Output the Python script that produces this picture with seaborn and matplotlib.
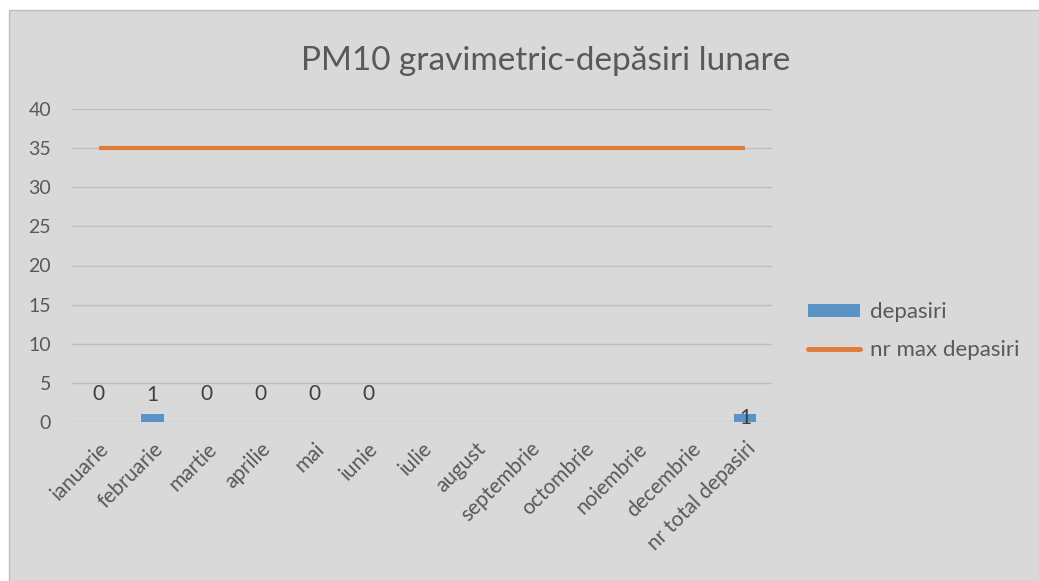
import numpy as np
import pandas as pd
import matplotlib.pyplot as plt
import seaborn as sns
from matplotlib.patches import Rectangle, Patch
from matplotlib.lines import Line2D

# data
months = ["ianuarie", "februarie", "martie", "aprilie", "mai", "iunie", "iulie",
          "august", "septembrie", "octombrie", "noiembrie", "decembrie", "nr total depasiri"]
depasiri = [0, 1, 0, 0, 0, 0, np.nan, np.nan, np.nan, np.nan, np.nan, np.nan, 1]
max_depasiri = [35] * 13
y_ticks = [0, 5, 10, 15, 20, 25, 30, 35, 40]

df = pd.DataFrame({"luna": months, "depasiri": depasiri, "max": max_depasiri})

sns.set_style("white")
plt.rcParams["font.family"] = ["Lato", "DejaVu Sans"]

blue = "#5b93c7"
orange = "#e07b39"
grey_txt = "#595959"

fig = plt.figure(figsize=(10.39, 5.81), dpi=100, facecolor="white")
# grey chart area (Excel style), with a white strip on top/left
fig.patches.append(Rectangle((9 / 1039, 0), 1, 1 - 10 / 581, transform=fig.transFigure,
                             facecolor="#d9d9d9", edgecolor="#bdbdbd", lw=1, zorder=-10))

ax = fig.add_axes([72 / 1039, 1 - 422 / 581, 700 / 1039, 313 / 581])
ax.set_facecolor("none")

sns.barplot(data=df, x="luna", y="depasiri", order=months, color=blue, width=0.42,
            saturation=1, linewidth=0, edgecolor="none", ax=ax, zorder=3)
ax.plot(np.arange(len(months)), df["max"], color=orange, lw=3, solid_capstyle="butt", zorder=4)

# data labels (offset in points above the value, last one sits on the bar)
for i, v in enumerate(depasiri):
    if np.isnan(v):
        continue
    if i == len(months) - 1:
        ax.annotate(f"{int(v)}", (i, v / 2), ha="center", va="center", fontsize=15,
                    color="#404040", zorder=5)
    else:
        off = 14 if v > 0 else 20
        ax.annotate(f"{int(v)}", (i, v), xytext=(0, off), textcoords="offset points",
                    ha="center", va="center", fontsize=15, color="#404040", zorder=5)

ax.set_xlim(-0.5, len(months) - 0.5)
ax.set_ylim(0, 40)
ax.set_yticks(y_ticks)
ax.grid(axis="y", color="#bfbfbf", lw=1, zorder=0)
for s in ax.spines.values():
    s.set_visible(False)
ax.tick_params(axis="both", length=0, labelsize=14, colors=grey_txt)
ax.tick_params(axis="y", pad=15)
ax.set_xticks(range(len(months)))
ax.set_xticklabels(months, rotation=45, ha="right", rotation_mode="anchor")
ax.tick_params(axis="x", pad=12, labelsize=15)
ax.set_xlabel("")
ax.set_ylabel("")

fig.text(546 / 1039, 1 - 61 / 581, "PM10 gravimetric-depăsiri lunare", ha="center", va="center",
         fontsize=24, color=grey_txt)

handles = [Patch(facecolor=blue, edgecolor="none"), Line2D([], [], color=orange, lw=3.5)]
fig.legend(handles, ["depasiri", "nr max depasiri"], loc="center left",
           bbox_to_anchor=(788 / 1039, 1 - 331 / 581), frameon=False, fontsize=16,
           labelcolor=grey_txt, handlelength=2.35, handleheight=0.55, labelspacing=0.8,
           handletextpad=0.45)

fig.savefig("out.png", dpi=100, facecolor="white")
